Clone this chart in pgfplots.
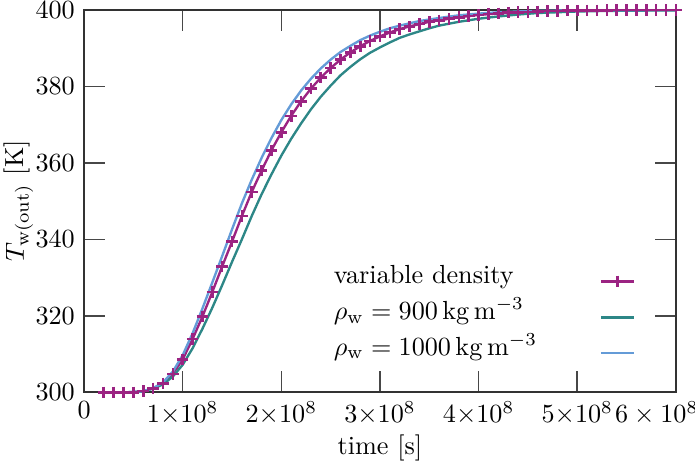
\documentclass[border=0pt]{standalone}
\usepackage{pgfplots}
\pgfplotsset{compat=1.18}
\definecolor{cmag}{RGB}{155,35,130}
\definecolor{cteal}{RGB}{45,135,135}
\definecolor{cblue}{RGB}{100,155,215}
\definecolor{axgray}{RGB}{50,50,50}
\begin{document}
\begin{tikzpicture}
\begin{axis}[
  scale only axis, width=226pt, height=146pt,
  xmin=0, xmax=6e8, ymin=300, ymax=400,
  xtick={0,1e8,2e8,3e8,4e8,5e8,6e8},
  xticklabels={$0$,$1{\times}10^{8}$,$2{\times}10^{8}$,$3{\times}10^{8}$,$4{\times}10^{8}$,$5{\times}10^{8}$,{\hspace*{-14.6pt}$6\times10^{8}$}},
  ytick={300,320,340,360,380,400},
  scaled x ticks=false,
  tick align=inside, major tick length=8pt,
  axis line style={line width=0.75pt, color=axgray},
  tick style={line width=0.6pt, color=axgray!90},
  xlabel={time [s]}, ylabel={$T_{\mathrm{w(out)}}$ [K]},
  xlabel style={yshift=3pt}, ylabel style={yshift=-6pt},
  legend plot pos=right, legend cell align=left,
  legend style={draw=none, fill=none, inner sep=0pt, at={(rel axis cs:0.4166,0.348)}, anchor=north west,
    row sep=0.7pt, nodes={text height=8pt, text depth=3pt, inner sep=1pt}},
  legend image code/.code={\draw[overlay,mark repeat=2,mark phase=2,yshift=-1.8pt] plot coordinates {(0cm,0cm) (0.22cm,0cm) (0.44cm,0cm)};},
]
\coordinate (ll) at (rel axis cs:0,0);
\coordinate (ur) at (rel axis cs:1,1);
\addplot[cmag, line width=0.9pt, mark=+, mark size=2.2pt, mark options={line width=1pt}] coordinates {
(2e7,300) (3e7,300) (4e7,300) (5e7,300) (6e7,300.3) (7e7,301.0) (8e7,302.3) (9e7,304.8)
(1.0e8,308.6) (1.1e8,313.9) (1.2e8,319.8) (1.3e8,326.2) (1.4e8,332.9) (1.5e8,339.4)
(1.6e8,346.1) (1.7e8,352.4) (1.8e8,358.0) (1.9e8,363.3) (2.0e8,368.0) (2.1e8,372.3)
(2.2e8,376.1) (2.3e8,379.4) (2.4e8,382.3) (2.5e8,384.8) (2.6e8,387.0) (2.7e8,388.9)
(2.8e8,390.5) (2.9e8,391.9) (3.0e8,393.1) (3.1e8,394.1) (3.2e8,395.0) (3.3e8,395.7)
(3.4e8,396.3) (3.5e8,396.9) (3.6e8,397.3) (3.7e8,397.7) (3.8e8,398.1) (3.9e8,398.4)
(4.0e8,398.7) (4.1e8,398.9) (4.2e8,399.1) (4.3e8,399.3) (4.4e8,399.4) (4.5e8,399.5)
(4.6e8,399.6) (4.7e8,399.7) (4.8e8,399.75) (4.9e8,399.8) (5.0e8,399.85) (5.1e8,399.88)
(5.2e8,399.9) (5.3e8,399.92) (5.4e8,399.94) (5.5e8,399.95) (5.6e8,399.96) (5.7e8,399.97)
(5.8e8,399.98) (5.9e8,399.99) (6.0e8,400)
};
\addlegendentry{\makebox[101pt][l]{variable density}}
\addplot[cteal, line width=0.9pt] coordinates {
(2e7,300) (4e7,300) (5e7,300.05) (6e7,300.3) (7e7,300.94) (8e7,302.07) (9e7,304.1)
(1.0e8,307.2) (1.1e8,311.5) (1.2e8,316.6) (1.3e8,322.1) (1.4e8,328.0) (1.5e8,334.1)
(1.6e8,340.0) (1.7e8,346.1) (1.8e8,351.8) (1.9e8,357.0) (2.0e8,361.9) (2.1e8,366.3)
(2.2e8,370.3) (2.3e8,374.0) (2.4e8,377.3) (2.5e8,380.2) (2.6e8,382.9) (2.7e8,385.1)
(2.8e8,387.1) (2.9e8,388.8) (3.0e8,390.2) (3.1e8,391.5) (3.2e8,392.7) (3.3e8,393.6)
(3.4e8,394.4) (3.5e8,395.2) (3.6e8,395.9) (3.7e8,396.4) (3.8e8,396.9) (4.0e8,397.7)
(4.2e8,398.3) (4.4e8,398.8) (4.6e8,399.2) (4.8e8,399.4) (5.0e8,399.6) (5.2e8,399.7)
(5.5e8,399.8) (6.0e8,399.9)
};
\addlegendentry{\makebox[101pt][l]{$\rho_{\mathrm{w}} = 900\,\mathrm{kg\,m^{-3}}$}}
\addplot[cblue, line width=0.9pt] coordinates {
(2e7,300) (4e7,300) (5e7,300.05) (6e7,300.3) (7e7,301.07) (8e7,302.56) (9e7,305.4)
(1.0e8,309.7) (1.1e8,315.4) (1.2e8,321.9) (1.3e8,328.7) (1.4e8,335.6) (1.5e8,342.6)
(1.6e8,349.4) (1.7e8,355.6) (1.8e8,361.3) (1.9e8,366.5) (2.0e8,371.2) (2.1e8,375.3)
(2.2e8,378.9) (2.3e8,382.0) (2.4e8,384.7) (2.5e8,387.0) (2.6e8,389.0) (2.7e8,390.6)
(2.8e8,392.1) (2.9e8,393.3) (3.0e8,394.3) (3.1e8,395.2) (3.2e8,395.9) (3.3e8,396.5)
(3.4e8,397.1) (3.5e8,397.5) (3.6e8,397.9) (3.8e8,398.6) (4.0e8,399.05) (4.2e8,399.4)
(4.4e8,399.6) (4.6e8,399.75) (5.0e8,399.88) (5.5e8,399.95) (6.0e8,400)
};
\addlegendentry{\makebox[101pt][l]{$\rho_{\mathrm{w}} = 1000\,\mathrm{kg\,m^{-3}}$}}
\end{axis}
\pgfresetboundingbox
\path[use as bounding box] ([xshift=-32.1pt,yshift=-29.4pt]ll) rectangle ([xshift=7.3pt,yshift=3.8pt]ur);
\end{tikzpicture}
\end{document}
